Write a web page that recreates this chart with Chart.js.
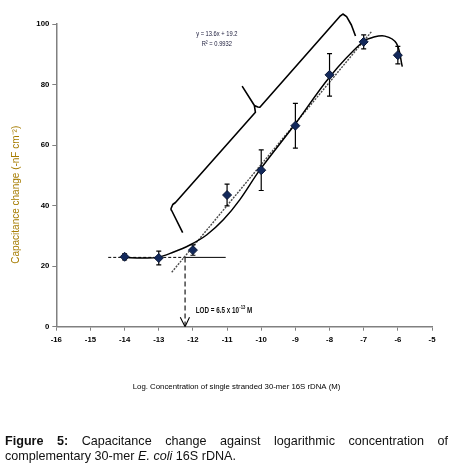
<!DOCTYPE html>
<html>
<head>
<meta charset="utf-8">
<script src="https://cdn.jsdelivr.net/npm/chart.js@4.4.1/dist/chart.umd.min.js"></script>
<style>
  html, body { margin: 0; padding: 0; background: #ffffff; }
  #wrap { position: relative; width: 453px; height: 469px; overflow: hidden; }
  #chart { position: absolute; left: 0; top: 0; }
  #caption {
    position: absolute; left: 5px; top: 434px; width: 443px;
    font-family: "Liberation Sans", Arial, sans-serif; font-size: 12.6px; line-height: 15px;
    color: #111;
  }
  #caption .l1 { text-align: justify; text-align-last: justify; white-space: nowrap; }
  #caption .l2 { text-align: left; white-space: nowrap; }
  #caption b { font-weight: bold; }
</style>
</head>
<body>
<div id="wrap">
  <canvas id="chart" width="453" height="469"></canvas>
  <div id="caption"><div class="l1"><b>Figure 5:</b> Capacitance change against logarithmic concentration of</div><div class="l2">complementary 30-mer <i>E. coli</i> 16S rDNA.</div></div>
</div>
<script>
// ---- data ----
const logConc = [-14, -13, -12, -11, -10, -9, -8, -7, -6];
const capChange = [23.1, 22.7, 25.3, 43.5, 51.7, 66.4, 83.2, 94.1, 89.7];
const capError = [1.0, 2.3, 1.7, 3.6, 6.7, 7.4, 7.0, 2.3, 2.9];

// smooth (polynomial) trend curve
const fitX = [-14.0, -13.5, -13.03, -12.58, -12.09, -11.6, -11.11, -10.63, -10.04, -8.99, -7.99, -7.02, -6.73, -6.38, -6.04, -5.87];
const fitY = [22.9, 22.7, 22.9, 24.6, 27.0, 30.3, 35.3, 41.9, 51.8, 67.2, 82.6, 94.2, 95.6, 96.0, 93.6, 85.9];

// linear fit line (dotted)
const trendX = [-12.62, -6.77];
const trendY = [18.0, 97.5];

// LOD construction
const lodY = 22.9;
const lodX = -12.23;
const lodDashX = [-14.48, -12.23];
const lodSolidX = [-12.23, -11.04];
const arrowX = [-12.37, -12.23, -12.10];
const arrowY = [3.1, 0, 3.1];

// bracket annotation
const bracketX = [-12.30, -12.63, -12.64, -12.59, -12.51, -10.17, -10.20, -10.55, -10.20, -10.10, -10.04, -7.70, -7.61, -7.50, -7.36, -7.24];
const bracketY = [31.05, 38.55, 39.05, 40.37, 41.03, 70.83, 73.07, 79.29, 73.07, 72.6, 72.48, 102.48, 103.30, 102.41, 99.67, 96.04];

// axis ticks
const xTicks = [-16, -15, -14, -13, -12, -11, -10, -9, -8, -7, -6, -5];
const yTicks = [0, 20, 40, 60, 80, 100];

// text
const eqLine1 = "y = 13.6x + 19.2";
const eqLine2 = "R\u00b2 = 0.9932";
const eqPos = { x: -11.30, y1: 96.9, y2: 93.5 };
const lodPos = { x: -11.92, y: 5.3 };
const xTitle = "Log. Concentration of single stranded 30-mer 16S rDNA (M)";
const yTitle = "Capacitance change (-nF cm\u207b\u00b2)";

const SANS = '"Liberation Sans", Arial, sans-serif';

const toXY = (xs, ys) => xs.map((x, i) => ({ x: x, y: ys[i] }));
const sp = n => "\u00a0".repeat(n);

const errorBars = {
  id: 'errorBars',
  beforeDatasetDraw(chart, args) {
    if (args.index !== 0) return;
    const { ctx, scales: { x, y } } = chart;
    ctx.save();
    ctx.strokeStyle = '#000';
    ctx.lineWidth = 1.2;
    logConc.forEach((v, i) => {
      const px = x.getPixelForValue(v);
      const top = y.getPixelForValue(capChange[i] + capError[i]);
      const bot = y.getPixelForValue(capChange[i] - capError[i]);
      ctx.beginPath();
      ctx.moveTo(px, top); ctx.lineTo(px, bot);
      ctx.moveTo(px - 2.5, top); ctx.lineTo(px + 2.5, top);
      ctx.moveTo(px - 2.5, bot); ctx.lineTo(px + 2.5, bot);
      ctx.stroke();
    });
    ctx.restore();
  }
};

// draws condensed text (horizontal squeeze) like the narrow font in the original
function narrowText(ctx, text, px, py, sx, align) {
  ctx.save();
  ctx.translate(px, py);
  ctx.scale(sx, 1);
  ctx.textAlign = align;
  ctx.fillText(text, 0, 0);
  const w = ctx.measureText(text).width * sx;
  ctx.restore();
  return w;
}

const notes = {
  id: 'notes',
  afterDraw(chart) {
    const { ctx, scales: { x, y } } = chart;
    ctx.save();
    ctx.fillStyle = '#1a1a3a';
    ctx.textBaseline = 'middle';
    ctx.font = '8px ' + SANS;
    const ex = x.getPixelForValue(eqPos.x);
    narrowText(ctx, eqLine1, ex, y.getPixelForValue(eqPos.y1), 0.72, 'center');
    narrowText(ctx, eqLine2, ex, y.getPixelForValue(eqPos.y2), 0.72, 'center');

    // LOD label with superscript
    ctx.fillStyle = '#111';
    let lx = x.getPixelForValue(lodPos.x);
    const ly = y.getPixelForValue(lodPos.y);
    ctx.font = 'bold 9px ' + SANS;
    lx += narrowText(ctx, "LOD = 6.5 x 10", lx, ly, 0.7, 'left');
    ctx.font = 'bold 6px ' + SANS;
    lx += narrowText(ctx, "-13", lx + 0.4, ly - 3, 0.7, 'left') + 0.4;
    ctx.font = 'bold 9px ' + SANS;
    narrowText(ctx, " M", lx, ly, 0.7, 'left');
    ctx.restore();
  }
};

const lineDs = (data, extra) => Object.assign({
  type: 'line', data: data, borderColor: '#000', borderWidth: 1.3,
  pointRadius: 0, fill: false, tension: 0
}, extra);

new Chart(document.getElementById('chart'), {
  type: 'scatter',
  data: {
    datasets: [
      {
        label: 'Capacitance change',
        data: toXY(logConc, capChange),
        pointStyle: 'rectRot',
        pointRadius: 4.5,
        backgroundColor: '#13295c',
        borderColor: '#0a1736',
        borderWidth: 1,
        showLine: false
      },
      lineDs(toXY(fitX, fitY), { borderWidth: 1.5, tension: 0.35 }),
      lineDs(toXY(trendX, trendY), { borderColor: '#4a4a4a', borderWidth: 1.4, borderDash: [2, 1.2] }),
      lineDs(toXY(lodDashX, [lodY, lodY]), { borderWidth: 1, borderDash: [3, 2] }),
      lineDs(toXY(lodSolidX, [lodY, lodY]), { borderWidth: 1 }),
      lineDs(toXY([lodX, lodX], [lodY, 0]), { borderWidth: 1.1, borderDash: [5, 3] }),
      lineDs(toXY(arrowX, arrowY), { borderWidth: 1.1 }),
      lineDs(toXY(bracketX, bracketY), { borderWidth: 1.6, clip: false, borderJoinStyle: 'round' })
    ]
  },
  options: {
    responsive: false,
    animation: false,
    events: [],
    layout: { padding: { top: 24, right: 21, bottom: 77, left: 0 } },
    plugins: { legend: { display: false }, tooltip: { enabled: false } },
    scales: {
      x: {
        type: 'linear', min: -16, max: -5,
        afterBuildTicks: s => { s.ticks = xTicks.map(v => ({ value: v })); },
        afterFit: s => { s.height = 65.3; },
        grid: { drawOnChartArea: false, drawTicks: true, tickLength: 4, color: '#808080', lineWidth: 1 },
        border: { color: '#808080', width: 1.5 },
        ticks: { padding: 4, color: '#000', font: { family: SANS, size: 7.8, weight: 'bold' }, maxRotation: 0 },
        title: {
          display: true, text: xTitle + sp(7), color: '#000',
          font: { family: SANS, size: 7.8 }, padding: { top: 0, bottom: 0 }
        }
      },
      y: {
        min: 0, max: 100,
        afterBuildTicks: s => { s.ticks = yTicks.map(v => ({ value: v })); },
        afterFit: s => { s.width = 56.3; },
        grid: { drawOnChartArea: false, drawTicks: true, tickLength: 4, color: '#808080', lineWidth: 1 },
        border: { color: '#808080', width: 1.5 },
        ticks: { padding: 3, color: '#000', font: { family: SANS, size: 7.8, weight: 'bold' } },
        title: {
          display: true, text: yTitle + sp(14), color: '#a67c00',
          font: { family: SANS, size: 10 }, padding: { top: 10, bottom: 0 }
        }
      }
    }
  },
  plugins: [errorBars, notes]
});
</script>
</body>
</html>
